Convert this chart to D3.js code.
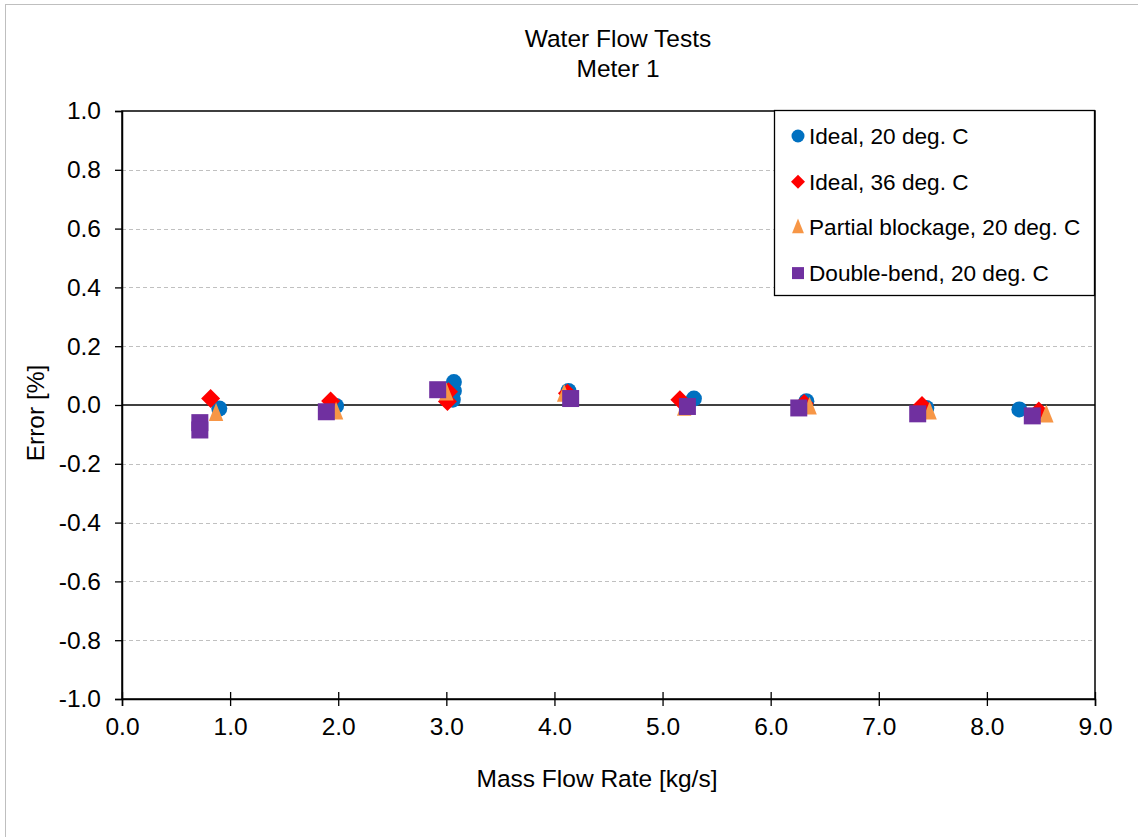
<!DOCTYPE html>
<html><head><meta charset="utf-8">
<script src="https://cdn.jsdelivr.net/npm/d3@7"></script>
<style>body{margin:0;background:#fff;} text{font-family:"Liberation Sans",Arial,sans-serif;fill:#000;}</style>
</head><body>
<svg id="chart" width="1138" height="837"></svg>
<script>
const title = ["Water Flow Tests", "Meter 1"];
const xLabel = "Mass Flow Rate [kg/s]";
const yLabel = "Error [%]";
const xTicks = [0,1,2,3,4,5,6,7,8,9];
const yTicks = [-1.0,-0.8,-0.6,-0.4,-0.2,0.0,0.2,0.4,0.6,0.8,1.0];
const seriesNames = ["Ideal, 20 deg. C","Ideal, 36 deg. C","Partial blockage, 20 deg. C","Double-bend, 20 deg. C"];
const seriesColors = ["#0070C0","#FF0000","#F79646","#7030A0"];
const seriesShapes = ["circle","diamond","triangle","square"];
const ideal20X = [0.90,1.98,3.07,3.07,3.06,4.13,5.29,6.33,7.44,8.30];
const ideal20Y = [-0.012,-0.003,0.078,0.048,0.018,0.048,0.022,0.013,-0.010,-0.015];
const ideal36X = [0.82,1.93,3.02,3.01,4.12,5.16,6.31,7.40,8.48];
const ideal36Y = [0.022,0.014,0.045,0.012,0.040,0.018,0.005,-0.002,-0.020];
const blockX = [0.87,1.98,3.00,4.09,5.20,6.36,7.47,8.55];
const blockY = [-0.030,-0.025,0.040,0.035,-0.012,-0.008,-0.025,-0.035];
const bendX = [0.72,0.72,1.89,2.92,4.15,5.23,6.26,7.36,8.42];
const bendY = [-0.060,-0.085,-0.023,0.052,0.022,-0.005,-0.010,-0.030,-0.037];
const seriesX = [ideal20X, ideal36X, blockX, bendX];
const seriesY = [ideal20Y, ideal36Y, blockY, bendY];

const svg = d3.select("#chart");
const FS = 24.5;
const LFS = 22.6;
const M = {left:122, right:1095, top:111, bottom:699};
const x = d3.scaleLinear().domain([0,9]).range([M.left, M.right]);
const y = d3.scaleLinear().domain([-1,1]).range([M.bottom, M.top]);
const fmt = d => d3.format(".1f")(d).replace("\u2212","-");

// outer chart border
svg.append("rect").attr("x",5.5).attr("y",4.5).attr("width",1150).attr("height",850)
  .attr("fill","none").attr("stroke","#bfbfbf").attr("stroke-width",1);

// gridlines
svg.append("g").selectAll("line").data(yTicks.filter(d=>Math.abs(d)>1e-9 && Math.abs(d)<0.999))
  .join("line").attr("x1",M.left).attr("x2",M.right)
  .attr("y1",d=>Math.round(y(d))+0.5).attr("y2",d=>Math.round(y(d))+0.5)
  .attr("stroke","#c0c0c0").attr("stroke-width",1).attr("stroke-dasharray","4,3");

// zero line
svg.append("line").attr("x1",M.left).attr("x2",M.right)
  .attr("y1",y(0)).attr("y2",y(0)).attr("stroke","#000").attr("stroke-width",1.3);

// plot frame
svg.append("rect").attr("x",M.left).attr("y",M.top).attr("width",M.right-M.left).attr("height",M.bottom-M.top)
  .attr("fill","none").attr("stroke","#000").attr("stroke-width",1.5);

// y axis
const yAxis = d3.axisLeft(y).tickValues(yTicks).tickSize(7).tickPadding(14).tickFormat(fmt);
const gy = svg.append("g").attr("transform",`translate(${M.left},0)`).call(yAxis);
gy.select(".domain").attr("stroke","#000").attr("stroke-width",1.5);
gy.selectAll(".tick line").attr("stroke","#000").attr("stroke-width",1.3);
gy.selectAll(".tick text").attr("font-size",FS).attr("font-family","Liberation Sans, Arial, sans-serif").attr("fill","#000");

// x axis
const xAxis = d3.axisBottom(x).tickValues(xTicks).tickSize(7).tickPadding(12).tickFormat(fmt);
const gx = svg.append("g").attr("transform",`translate(0,${M.bottom})`).call(xAxis);
gx.select(".domain").attr("stroke","#000").attr("stroke-width",1.5);
gx.selectAll(".tick line").attr("stroke","#000").attr("stroke-width",1.3).attr("y1",-7);
gx.selectAll(".tick text").attr("font-size",FS).attr("font-family","Liberation Sans, Arial, sans-serif").attr("fill","#000");

// titles
svg.append("text").attr("x",618).attr("y",47).attr("text-anchor","middle").attr("font-size",FS).text(title[0]);
svg.append("text").attr("x",618).attr("y",77).attr("text-anchor","middle").attr("font-size",FS).text(title[1]);
svg.append("text").attr("x",597).attr("y",787).attr("text-anchor","middle").attr("font-size",FS).text(xLabel);
svg.append("text").attr("transform",`translate(44,413) rotate(-90)`).attr("text-anchor","middle").attr("font-size",FS).text(yLabel);

function shapePath(shape, s) {
  if (shape === "circle") return d3.symbol(d3.symbolCircle, Math.PI*(s/2)*(s/2))();
  if (shape === "square") return d3.symbol(d3.symbolSquare, s*s)();
  if (shape === "diamond") { const h=s/2; return `M0,${-h}L${h},0L0,${h}L${-h},0Z`; }
  if (shape === "triangle") { const w=s*0.85, hh=s*1.05; return `M0,${-hh*0.6}L${w/2},${hh*0.4}L${-w/2},${hh*0.4}Z`; }
}
const plotSizes = [16,19,17,17];
const legSizes = [13,14,14,12];

// points
seriesX.forEach((xs,i)=>{
  const pts = xs.map((v,j)=>({x:v,y:seriesY[i][j]}));
  svg.append("g").selectAll("path").data(pts).join("path")
    .attr("transform",d=>`translate(${x(d.x)},${y(d.y)})`)
    .attr("d",shapePath(seriesShapes[i], plotSizes[i]))
    .attr("fill",seriesColors[i]);
});

// legend
const lg = svg.append("g");
lg.append("rect").attr("x",774.5).attr("y",110.5).attr("width",320).attr("height",185)
  .attr("fill","#fff").attr("stroke","#000").attr("stroke-width",1.3);
seriesNames.forEach((n,i)=>{
  const cy = 136 + i*45.7;
  lg.append("path").attr("transform",`translate(798,${cy})`).attr("d",shapePath(seriesShapes[i],legSizes[i])).attr("fill",seriesColors[i]);
  lg.append("text").attr("x",809).attr("y",cy+8).attr("font-size",LFS).text(n);
});
</script>
</body></html>
